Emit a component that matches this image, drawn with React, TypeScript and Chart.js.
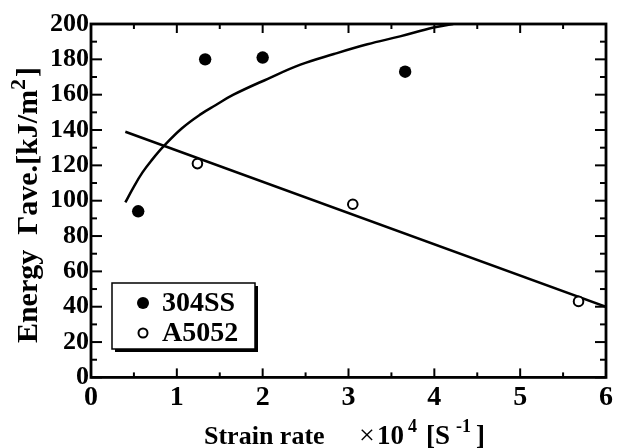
import React, { useEffect, useRef } from 'react';
import { Chart, registerables } from 'chart.js';

Chart.register(...registerables);

// ---- data ----
const ss304X = [0.55, 1.33, 2.0, 3.66];
const ss304Y = [94, 180, 181, 173];
const a5052X = [1.24, 3.05, 5.68];
const a5052Y = [121, 98, 43];
const curveX = [0.4, 0.5, 0.6, 0.7, 0.85, 1.06, 1.28, 1.45, 1.66, 2.06, 2.44, 2.83, 3.22, 3.6, 3.99, 4.22];
const curveY = [99, 108, 116, 122.5, 131, 141, 149, 154, 160, 169, 177, 183, 188.5, 193, 198, 200];
const lineX = [0.4, 6.0];
const lineY = [139, 40];

const xMajor = [0, 1, 2, 3, 4, 5, 6];
const xMinor = [0.5, 1.5, 2.5, 3.5, 4.5, 5.5];
const yMajor = [0, 20, 40, 60, 80, 100, 120, 140, 160, 180, 200];
const yMinor = [10, 30, 50, 70, 90, 110, 130, 150, 170, 190];

const legendLabels = ['304SS', 'A5052'];
const yTitleMain = 'Energy  \u0393ave.[kJ/m';
const yTitleSup = '2';
const yTitleEnd = ']';
const xTitleMain = 'Strain rate';

const SERIF = '"Liberation Serif", "Times New Roman", serif';

const toPts = (xs: number[], ys: number[]) => xs.map((x, i) => ({ x, y: ys[i] }));

const framePlugin = {
  id: 'frameTicks',
  afterDatasetsDraw(chart: any) {
    const { ctx, chartArea: a, scales } = chart;
    const x = scales.x;
    const y = scales.y;
    ctx.save();
    ctx.strokeStyle = '#000';
    ctx.lineWidth = 2.8;
    ctx.strokeRect(a.left, a.top, a.right - a.left, a.bottom - a.top);
    ctx.lineWidth = 2;
    const seg = (x1: number, y1: number, x2: number, y2: number) => {
      ctx.beginPath();
      ctx.moveTo(x1, y1);
      ctx.lineTo(x2, y2);
      ctx.stroke();
    };
    xMajor.forEach((v) => {
      const p = x.getPixelForValue(v);
      seg(p, a.bottom, p, a.bottom - 9);
      seg(p, a.top, p, a.top + 9);
    });
    xMinor.forEach((v) => {
      const p = x.getPixelForValue(v);
      seg(p, a.bottom, p, a.bottom - 5);
      seg(p, a.top, p, a.top + 5);
    });
    yMajor.forEach((v) => {
      const p = y.getPixelForValue(v);
      seg(a.left, p, a.left + 11, p);
      seg(a.right, p, a.right - 11, p);
    });
    yMinor.forEach((v) => {
      const p = y.getPixelForValue(v);
      seg(a.left, p, a.left + 6, p);
      seg(a.right, p, a.right - 6, p);
    });
    ctx.restore();
  },
};

const decorPlugin = {
  id: 'decor',
  afterDraw(chart: any) {
    const { ctx, chartArea: a } = chart;
    ctx.save();
    ctx.fillStyle = '#000';

    // legend box
    const bx = a.left + 21;
    const by = a.top + 259;
    const bw = 143;
    const bh = 66;
    ctx.fillRect(bx + 3, by + 3, bw, bh);
    ctx.fillStyle = '#fff';
    ctx.fillRect(bx, by, bw, bh);
    ctx.strokeStyle = '#000';
    ctx.lineWidth = 1.5;
    ctx.strokeRect(bx, by, bw, bh);
    ctx.fillStyle = '#000';
    ctx.beginPath();
    ctx.arc(bx + 31, by + 20, 6, 0, Math.PI * 2);
    ctx.fill();
    ctx.beginPath();
    ctx.lineWidth = 2;
    ctx.arc(bx + 31, by + 50, 4.5, 0, Math.PI * 2);
    ctx.stroke();
    ctx.font = `bold 28px ${SERIF}`;
    ctx.textBaseline = 'middle';
    ctx.textAlign = 'left';
    ctx.fillText(legendLabels[0], bx + 50, by + 21);
    ctx.fillText(legendLabels[1], bx + 50, by + 51);

    // y title (rotated)
    ctx.save();
    ctx.translate(37, 205);
    ctx.rotate(-Math.PI / 2);
    ctx.textBaseline = 'alphabetic';
    ctx.font = `bold 30px ${SERIF}`;
    const w1 = ctx.measureText(yTitleMain).width;
    ctx.font = `bold 22px ${SERIF}`;
    const w2 = ctx.measureText(yTitleSup).width;
    ctx.font = `bold 30px ${SERIF}`;
    const w3 = ctx.measureText(yTitleEnd).width;
    const total = w1 + w2 + 2 + w3;
    let cx = -total / 2;
    ctx.fillText(yTitleMain, cx, 0);
    cx += w1;
    ctx.font = `bold 22px ${SERIF}`;
    ctx.fillText(yTitleSup, cx, -12);
    cx += w2 + 2;
    ctx.font = `bold 30px ${SERIF}`;
    ctx.fillText(yTitleEnd, cx, 0);
    ctx.restore();

    // x title
    const base = 444;
    ctx.textBaseline = 'alphabetic';
    ctx.font = `bold 26px ${SERIF}`;
    ctx.fillText(xTitleMain, 204, base);
    ctx.font = `28px ${SERIF}`;
    ctx.fillText('\u00d7', 359, base);
    ctx.font = `bold 27px ${SERIF}`;
    ctx.fillText('10', 377, base);
    ctx.font = `bold 18px ${SERIF}`;
    ctx.fillText('4', 408, base - 12);
    ctx.font = `bold 27px ${SERIF}`;
    ctx.fillText('[S', 426, base);
    ctx.font = `bold 18px ${SERIF}`;
    ctx.fillText('-1', 456, base - 12);
    ctx.font = `bold 27px ${SERIF}`;
    ctx.fillText(']', 476, base);

    ctx.restore();
  },
};

export default function App() {
  const ref = useRef<HTMLCanvasElement | null>(null);

  useEffect(() => {
    if (!ref.current) return;
    const chart = new Chart(ref.current, {
      type: 'scatter',
      data: {
        datasets: [
          {
            label: legendLabels[0],
            data: toPts(ss304X, ss304Y),
            backgroundColor: '#000',
            borderColor: '#000',
            pointRadius: 6.2,
            pointBorderWidth: 0,
            showLine: false,
          },
          {
            label: legendLabels[1],
            data: toPts(a5052X, a5052Y),
            backgroundColor: '#fff',
            borderColor: '#000',
            pointRadius: 4.8,
            pointBorderWidth: 2,
            showLine: false,
          },
          {
            label: 'fit304',
            data: toPts(curveX, curveY),
            borderColor: '#000',
            borderWidth: 2.5,
            pointRadius: 0,
            showLine: true,
            tension: 0.4,
          } as any,
          {
            label: 'fitA5052',
            data: toPts(lineX, lineY),
            borderColor: '#000',
            borderWidth: 2.5,
            pointRadius: 0,
            showLine: true,
          },
        ],
      },
      options: {
        animation: false,
        responsive: false,
        devicePixelRatio: 1,
        layout: { padding: { left: 48, top: 24, right: 7, bottom: 29 } },
        plugins: {
          legend: { display: false },
          tooltip: { enabled: false },
        },
        scales: {
          x: {
            type: 'linear',
            min: 0,
            max: 6,
            grid: { display: false, drawTicks: false },
            border: { display: false },
            ticks: {
              stepSize: 1,
              color: '#000',
              padding: 4,
              font: { family: SERIF, size: 28, weight: 'bold' },
            },
          },
          y: {
            type: 'linear',
            min: 0,
            max: 200,
            grid: { display: false, drawTicks: false },
            border: { display: false },
            ticks: {
              stepSize: 20,
              color: '#000',
              padding: 2,
              font: { family: SERIF, size: 26, weight: 'bold' },
            },
          },
        },
      },
      plugins: [framePlugin, decorPlugin],
    });
    return () => chart.destroy();
  }, []);

  return (
    <div style={{ position: 'absolute', left: 0, top: 0, width: 617, height: 448, background: '#fff' }}>
      <canvas ref={ref} width={617} height={448} style={{ display: 'block', width: 617, height: 448 }} />
    </div>
  );
}
